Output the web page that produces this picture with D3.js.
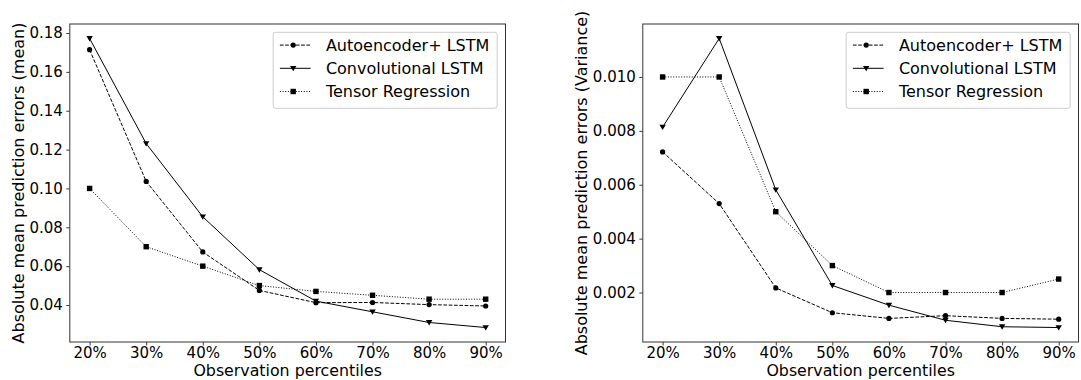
<!DOCTYPE html>
<html>
<head>
<meta charset="utf-8">
<script src="https://cdn.jsdelivr.net/npm/d3@7"></script>
<style>
  html, body { margin: 0; padding: 0; background: #fff; }
  svg { display: block; font-family: "DejaVu Sans", sans-serif; }
</style>
</head>
<body>
<svg id="chart" width="1081" height="380"></svg>
<script>
// ---- data ----
const categories = [20, 30, 40, 50, 60, 70, 80, 90];
const categoryLabels = ["20%", "30%", "40%", "50%", "60%", "70%", "80%", "90%"];
const seriesNames = ["Autoencoder+ LSTM", "Convolutional LSTM", "Tensor Regression"];

const meanAutoencoder = [0.1714, 0.1036, 0.0673, 0.0475, 0.0412, 0.0413, 0.0402, 0.0395];
const meanConvLSTM    = [0.1772, 0.1231, 0.0854, 0.0582, 0.0420, 0.0365, 0.0310, 0.0284];
const meanTensor      = [0.100, 0.070, 0.060, 0.050, 0.047, 0.045, 0.043, 0.043];

const varAutoencoder = [0.00722, 0.00530, 0.00217, 0.00125, 0.00104, 0.00114, 0.00104, 0.00101];
const varConvLSTM    = [0.00814, 0.01143, 0.00581, 0.00226, 0.00153, 0.00097, 0.00073, 0.00070];
const varTensor      = [0.0100, 0.0100, 0.0050, 0.0030, 0.0020, 0.0020, 0.0020, 0.0025];

const meanTicks = [0.04, 0.06, 0.08, 0.10, 0.12, 0.14, 0.16, 0.18];
const varTicks  = [0.002, 0.004, 0.006, 0.008, 0.010];

const panels = [
  { left: 69.8, right: 505.5, ylabel: "Absolute mean prediction errors (mean)", ylabelX: 23.5,
    series: [meanAutoencoder, meanConvLSTM, meanTensor], ticks: meanTicks, fmt: ".2f" },
  { left: 642.8, right: 1078.5, ylabel: "Absolute mean prediction errors (Variance)", ylabelX: 586.5,
    series: [varAutoencoder, varConvLSTM, varTensor], ticks: varTicks, fmt: ".3f" }
];

const styles = [
  { dash: "3.7,1.6", marker: "circle" },
  { dash: null, marker: "triangleDown" },
  { dash: "1,1.65", marker: "square" }
];

const plotTop = 24, plotBottom = 342;
const FS = 16, TICK_FS = 15;
const svg = d3.select("#chart");

function drawMarker(g, type, x, y) {
  if (type === "circle") {
    g.append("circle").attr("cx", x).attr("cy", y).attr("r", 2.6).attr("fill", "#000");
  } else if (type === "square") {
    g.append("rect").attr("x", x - 2.7).attr("y", y - 2.7).attr("width", 5.4).attr("height", 5.4).attr("fill", "#000");
  } else {
    g.append("path").attr("d", `M${x - 3.2},${y - 2.4}L${x + 3.2},${y - 2.4}L${x},${y + 3}Z`).attr("fill", "#000");
  }
}

panels.forEach(p => {
  const all = p.series.flat();
  const lo = d3.min(all), hi = d3.max(all), pad = (hi - lo) * 0.05;
  const y = d3.scaleLinear().domain([lo - pad, hi + pad]).range([plotBottom, plotTop]);
  const x = d3.scaleLinear().domain([16.5, 93.5]).range([p.left, p.right]);

  const g = svg.append("g");

  // series
  p.series.forEach((vals, si) => {
    const line = d3.line().x((d, i) => x(categories[i])).y(d => y(d));
    const path = g.append("path").datum(vals).attr("d", line)
      .attr("fill", "none").attr("stroke", "#000").attr("stroke-width", 1);
    if (styles[si].dash) path.attr("stroke-dasharray", styles[si].dash);
    vals.forEach((v, i) => drawMarker(g, styles[si].marker, x(categories[i]), y(v)));
  });

  // axes
  const xAxis = d3.axisBottom(x).tickValues(categories)
    .tickFormat((d, i) => categoryLabels[i]).tickSizeOuter(0).tickSize(3.5).tickPadding(1.8);
  const yAxis = d3.axisLeft(y).tickValues(p.ticks)
    .tickFormat(d3.format(p.fmt)).tickSizeOuter(0).tickSize(3.5).tickPadding(3.5);

  const gx = svg.append("g").attr("transform", `translate(0,${plotBottom})`).call(xAxis);
  const gy = svg.append("g").attr("transform", `translate(${p.left},0)`).call(yAxis);
  [gx, gy].forEach(a => {
    a.select(".domain").remove();
    a.selectAll("line").attr("stroke", "#222").attr("stroke-width", 0.9);
    a.selectAll("text").attr("font-size", TICK_FS).attr("font-family", "DejaVu Sans").attr("fill", "#000");
  });

  // frame
  svg.append("rect").attr("x", p.left).attr("y", plotTop)
    .attr("width", p.right - p.left).attr("height", plotBottom - plotTop)
    .attr("fill", "none").attr("stroke", "#333").attr("stroke-width", 1);

  // labels
  svg.append("text").attr("x", (p.left + p.right) / 2).attr("y", 376.2)
    .attr("text-anchor", "middle").attr("font-size", 15.8).text("Observation percentiles");
  svg.append("text").attr("transform", `translate(${p.ylabelX},${(plotTop + plotBottom) / 2}) rotate(-90)`)
    .attr("text-anchor", "middle").attr("font-size", FS).text(p.ylabel);

  // legend (upper right)
  const lw = 224, lh = 76;
  const lg = svg.append("g").attr("transform", `translate(${p.right - 8.3 - lw},${plotTop + 8.3})`);
  lg.append("rect").attr("width", lw).attr("height", lh).attr("rx", 2.5)
    .attr("fill", "#fff").attr("fill-opacity", 0.8).attr("stroke", "#ccc").attr("stroke-width", 1);
  seriesNames.forEach((name, si) => {
    const yy = 12.8 + si * 23.2;
    const l = lg.append("line").attr("x1", 6.7).attr("x2", 37.4).attr("y1", yy).attr("y2", yy)
      .attr("stroke", "#000").attr("stroke-width", 1);
    if (styles[si].dash) l.attr("stroke-dasharray", styles[si].dash);
    drawMarker(lg, styles[si].marker, 20, yy);
    lg.append("text").attr("x", 52.7).attr("y", yy + 5.8).attr("font-size", FS).text(name);
  });
});
</script>
</body>
</html>
